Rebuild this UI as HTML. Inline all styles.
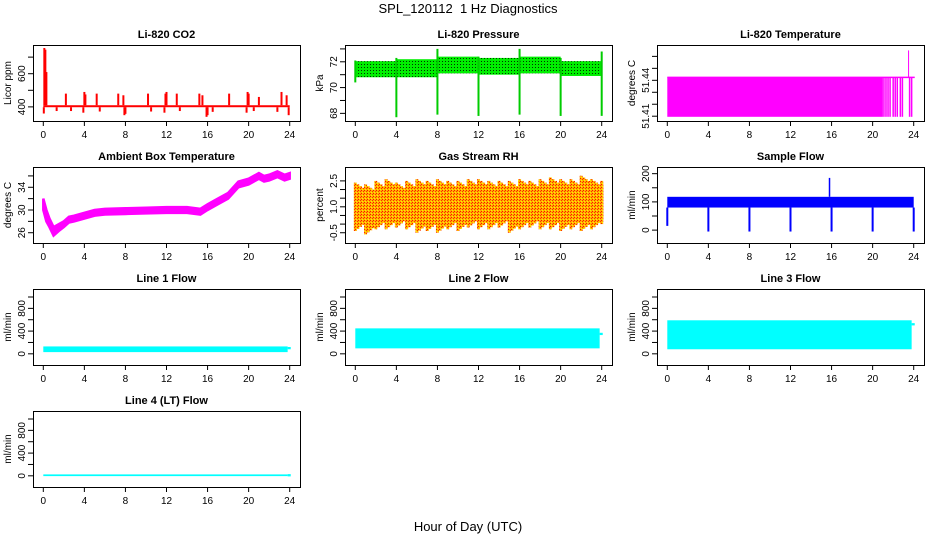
<!DOCTYPE html>
<html><head><meta charset="utf-8">
<style>
html,body{margin:0;padding:0;background:#fff;}
svg{display:block;font-family:"Liberation Sans",sans-serif;}
.tt{font-size:11px;font-weight:bold;text-anchor:middle;}
.tk{font-size:10px;text-anchor:middle;}
</style></head>
<body>
<svg id="c" width="936" height="540" viewBox="0 0 936 540">
<defs>
<pattern id="pgreen" width="3" height="3" patternUnits="userSpaceOnUse"><rect width="3" height="3" fill="#00ee00"/><rect x="1" y="1" width="1" height="1" fill="#003300"/></pattern>
<pattern id="pyr" width="3" height="3" patternUnits="userSpaceOnUse"><rect width="3" height="3" fill="#ffb000"/><rect x="1" y="1" width="1" height="1" fill="#ff1000"/><rect x="0" y="2" width="1" height="1" fill="#ff3000"/><rect x="2" y="0" width="1" height="1" fill="#ffee00"/></pattern>
</defs>
<text x="468" y="13" font-size="13" text-anchor="middle" xml:space="preserve">SPL_120112 &#160;1 Hz Diagnostics</text>
<text x="468" y="531" font-size="13" text-anchor="middle">Hour of Day (UTC)</text>
</svg>
<script>
// ---- data ----
const xTicks = [0,4,8,12,16,20,24];
// CO2
const co2Base = [398, 410];
const co2SpikeT = [0.1,0.2,0.3,2.2,4.0,4.1,5.2,7.3,7.8,10.2,11.9,12.0,13.0,15.2,15.5,18.1,19.9,20.0,21.0,23.2,23.7];
const co2SpikeV = [755,745,610,480,490,475,480,480,470,480,480,490,480,480,470,480,490,480,460,490,470];
const co2DipT = [0.05,1.3,2.7,3.9,5.5,7.9,8.0,10.5,11.8,13.3,15.9,16.0,16.5,19.8,20.5,22.8,23.9];
const co2DipV = [360,375,375,365,372,350,358,372,365,375,340,350,370,365,375,370,350];
// Pressure
const presSegT = [0,4,8,12,16,20,24];
const presHi = [72.05,72.2,72.4,72.3,72.4,72.05];
const presLo = [70.8,70.8,71.1,71.0,71.1,70.9];
const presEventT = [0,4,8,12,16,20,24];
const presEventLo = [70.4,67.7,67.9,67.8,67.9,67.8,67.8];
const presEventHi = [72.1,72.3,73.0,72.4,73.0,72.3,72.8];
// Li-820 Temperature
const tempBase = 51.4095;
const tempTop = 51.4425;
const tempFillEnd = 21.0;
const tempLineT = [21.1,21.3,21.5,21.7,22.0,22.2,22.4,22.7,22.9,23.6,23.8];
const tempSpikeT = 23.5;
const tempSpikeV = 51.465;
// Ambient box temperature
const ambT  = [0,0.3,0.6,1.0,1.5,2,2.5,3,4,5,6,8,10,12,14,15.3,16,17,18,19,20,21,21.5,22,22.8,23.5,24];
const ambLo = [30,28,27,25.5,26.3,27,27.8,28,28.5,29,29.2,29.3,29.4,29.5,29.5,29.2,30,31,32,34,34.5,35.5,35,35.2,35.8,35.2,35.5];
const ambHi = [32,30,28.5,27,27.5,28,28.8,29,29.5,30,30.2,30.3,30.4,30.5,30.5,30.2,31,32,33,35,35.5,36.5,36,36.2,36.8,36.2,36.5];
// Gas stream RH
const rhT   = [0,1,2,3,4,5,6,7,8,9,10,11,12,13,14,15,16,17,18,19,20,21,22,23,24];
const rhMax = [2.4,2.3,2.5,2.6,2.4,2.5,2.6,2.5,2.6,2.5,2.5,2.6,2.6,2.5,2.5,2.5,2.6,2.5,2.6,2.7,2.6,2.6,2.8,2.6,2.5];
const rhMin = [-0.4,-0.6,-0.3,-0.3,-0.2,-0.3,-0.5,-0.4,-0.5,-0.3,-0.4,-0.2,-0.3,-0.3,-0.2,-0.5,-0.3,-0.2,-0.3,-0.3,-0.4,-0.3,-0.4,-0.3,0];
const rhCoreLo = 0.3, rhCoreHi = 2.0;
// Sample flow
const sfBand = [80, 118];
const sfDipT = [0,4,8,12,16,20,24];
const sfDipV = [15,-5,-5,-5,-5,-5,-5];
const sfSpikeT = 15.8, sfSpikeV = 185;
// Line flows
const lfBandLo = [30, 96, 80, -5];
const lfBandHi = [130, 448, 590, 25];
const lfEndV = [100, 350, 520, 10];
// ---- layout ----
const S = document.getElementById('c');
const NS = 'http://www.w3.org/2000/svg';
function mk(tag, attrs, parent){const e=document.createElementNS(NS,tag);for(const k in attrs)e.setAttribute(k,attrs[k]);(parent||S).appendChild(e);return e;}
const colL=[33,345,657], W=267, rowT=[45,167,289,411], H=76;
function panel(name,col,row,title,ylab,ymin,ymax,yTicks,yLabels){
  const g=mk('g',{});
  
  
  const L=colL[col],T=rowT[row];
  const xs=h=>L+10.3+h*(W-20.6)/24;
  const ys=v=>T+H-3-(v-ymin)*(H-6)/(ymax-ymin);
  const tt=mk('text',{x:L+W/2,y:T-7,class:'tt'},g);tt.textContent=title;
  
  
  const plot=mk('g',{},g);
  
  
  const ax=mk('g',{},g);
  
  
  mk('rect',{x:L+0.5,y:T+0.5,width:W,height:H,fill:'none',stroke:'#000'},ax);
  xTicks.forEach(t=>{const x=xs(t);mk('line',{x1:x,x2:x,y1:T+H,y2:T+H+5,stroke:'#000'},ax);
    const tx=mk('text',{x:x,y:T+H+17,class:'tk'},ax);tx.textContent=t;});
  yTicks.forEach((v,i)=>{const y=ys(v);mk('line',{x1:L,x2:L-5,y1:y,y2:y,stroke:'#000'},ax);
    if(yLabels[i]!==''){const tx=mk('text',{x:L-8,y:y,class:'tk',transform:`rotate(-90 ${L-8} ${y})`},ax);tx.textContent=yLabels[i];}});
  const yl=mk('text',{x:L-22,y:T+H/2,class:'tk',transform:`rotate(-90 ${L-22} ${T+H/2})`},ax);yl.textContent=ylab;
  
  
  return {xs,ys,plot};
}
function vline(p,t,a,b,color,w){mk('line',{x1:p.xs(t),x2:p.xs(t),y1:p.ys(a),y2:p.ys(b),stroke:color,'stroke-width':w||1.5},p.plot);}
function band(p,t0,t1,lo,hi,fill){const y1=p.ys(hi),y2=p.ys(lo);mk('rect',{x:p.xs(t0),y:y1,width:p.xs(t1)-p.xs(t0),height:y2-y1,fill:fill},p.plot);}

// CO2
let p=panel('co2',0,0,'Li-820 CO2','Licor ppm',333,755,[400,500,600,700],['400','','600','']);
band(p,0,24,co2Base[0],co2Base[1],'#ff0000');
co2SpikeT.forEach((t,i)=>vline(p,t,co2Base[1],co2SpikeV[i],'#ff0000',2));
co2DipT.forEach((t,i)=>vline(p,t,co2Base[0],co2DipV[i],'#ff0000',2));
// Pressure
p=panel('pressure',1,0,'Li-820 Pressure','kPa',67.64,73.07,[68,69,70,71,72,73],['68','','70','','72','']);
presHi.forEach((h,i)=>band(p,presSegT[i],presSegT[i+1],presLo[i],h,'url(#pgreen)'));
presEventT.forEach((t,i)=>vline(p,t,presEventLo[i],presEventHi[i],'#00cc00',2));
// Li-820 Temperature
p=panel('li820-temperature',2,0,'Li-820 Temperature','degrees C',51.4085,51.467,[51.41,51.42,51.43,51.44,51.45,51.46],['51.41','','','51.44','','']);
band(p,0,tempFillEnd,tempBase,tempTop,'#ff00ff');
mk('line',{x1:p.xs(0),x2:p.xs(24.1),y1:p.ys(tempTop),y2:p.ys(tempTop),stroke:'#ff00ff','stroke-width':1.5},p.plot);
tempLineT.forEach(t=>vline(p,t,tempBase,tempTop,'#ff00ff',1.5));
vline(p,tempSpikeT,tempTop,tempSpikeV,'#ff00ff',1);
// Ambient
p=panel('ambient-temperature',0,1,'Ambient Box Temperature','degrees C',24.72,37.04,[26,28,30,32,34,36],['26','','30','','34','']);
{let up=ambT.map((t,i)=>p.xs(t)+','+p.ys(ambHi[i])).join(' ');
 let dn=ambT.slice().reverse().map((t,j)=>{const i=ambT.length-1-j;return p.xs(t)+','+p.ys(ambLo[i]);}).join(' ');
 mk('polygon',{points:up+' '+dn,fill:'#ff00ff',stroke:'#ff00ff','stroke-width':2.5},p.plot);}
// RH
p=panel('gas-stream-rh',1,1,'Gas Stream RH','percent',-0.92,3.13,[-0.5,0,0.5,1,1.5,2,2.5],['-0.5','','','1.0','','','2.5']);
band(p,0,24,rhCoreLo,rhCoreHi,'url(#pyr)');
rhT.forEach((t,i)=>{for(let k=0;k<4;k++){const tt=Math.min(24,t+k*0.25);vline(p,tt,rhMin[i]+k*0.12,rhMax[i]-k*0.1,'url(#pyr)',3);}});
// Sample flow
p=panel('sample-flow',2,1,'Sample Flow','ml/min',-35,213,[0,50,100,150,200],['0','','100','','200']);
band(p,0,24,sfBand[0],sfBand[1],'#0000ff');
sfDipT.forEach((t,i)=>vline(p,t,sfBand[0],sfDipV[i],'#0000ff',2));
vline(p,sfSpikeT,sfBand[1],sfSpikeV,'#0000ff',1.5);
// Line flows
const lfNames=['Line 1 Flow','Line 2 Flow','Line 3 Flow','Line 4 (LT) Flow'];
const lfPos=[[0,2],[1,2],[2,2],[0,3]];
lfNames.forEach((n,i)=>{
  const q=panel('line'+(i+1)+'-flow',lfPos[i][0],lfPos[i][1],n,'ml/min',-144,1088,[0,200,400,600,800,1000],['0','','400','','800','']);
  band(q,0,23.8,lfBandLo[i],lfBandHi[i],'#00ffff');
  band(q,23.8,24.1,lfEndV[i]-20,lfEndV[i]+20,'#00ffff');
});
</script>
</body></html>
